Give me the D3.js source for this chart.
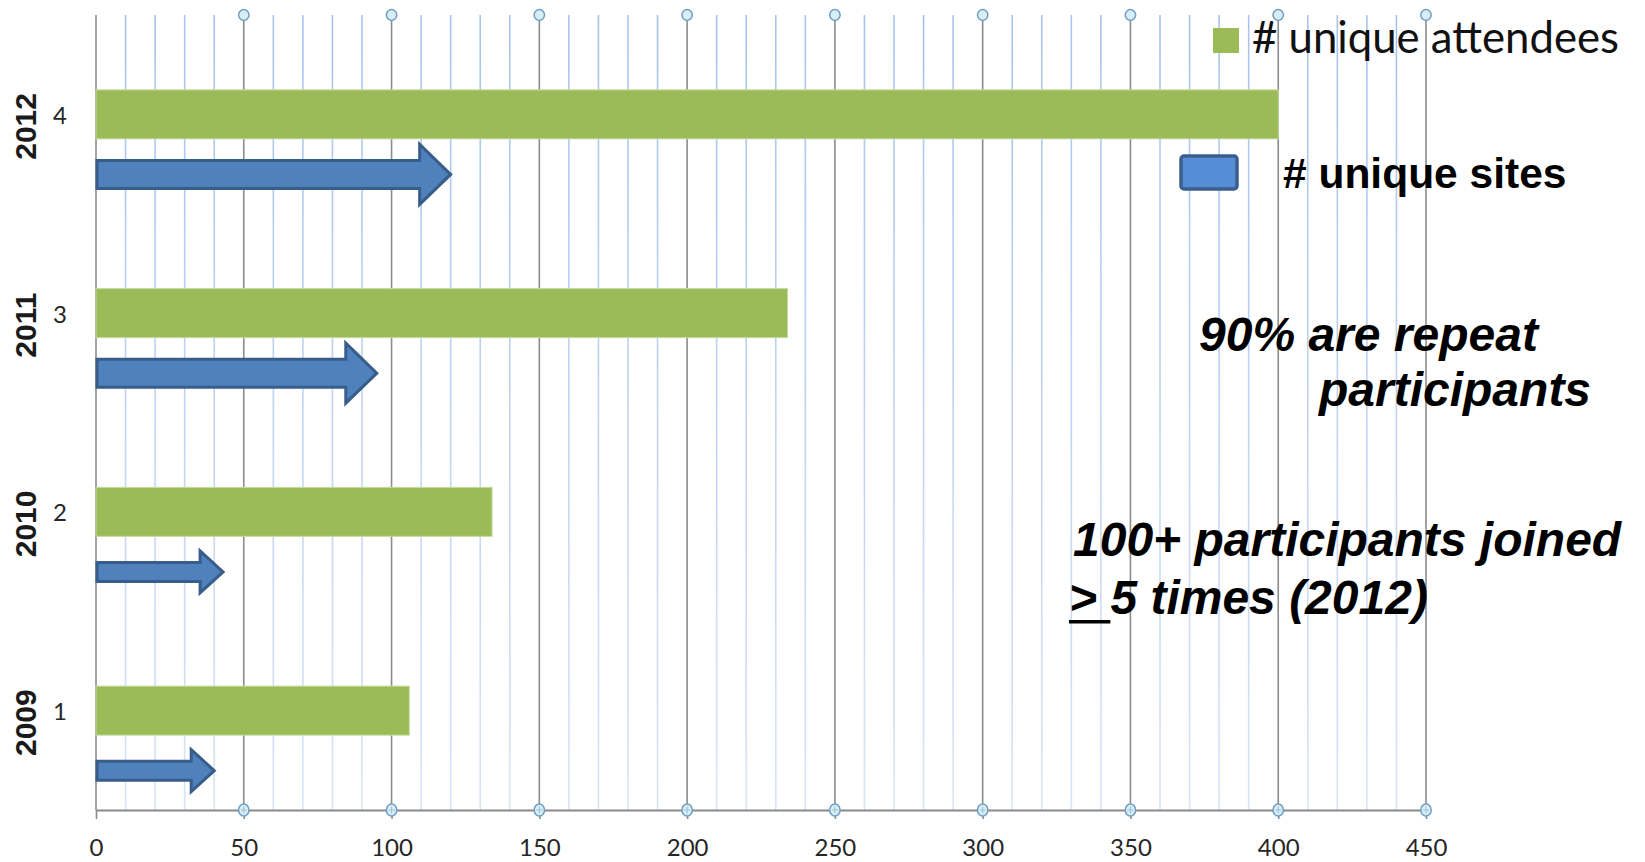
<!DOCTYPE html>
<html>
<head>
<meta charset="utf-8">
<script src="https://cdn.jsdelivr.net/npm/d3@7"></script>
<style>
  html, body { margin: 0; padding: 0; background: #fff; }
  svg { display: block; }
</style>
</head>
<body>
<svg id="chart" width="1645" height="862"></svg>
<script>
// Event history: one row per year
const categories = ["1", "2", "3", "4"];
const years = ["2009", "2010", "2011", "2012"];
const attendees = [106, 134, 234, 400];   // # unique attendees
const sites = [40, 43, 95, 120];          // # unique sites
const xTicks = [0, 50, 100, 150, 200, 250, 300, 350, 400, 450];
const legendLabels = ["# unique attendees", "# unique sites"];
const noteRepeat = ["90% are repeat", "participants"];
const noteFrequent = ["100+ participants joined", "> ", "5 times (2012)"];

const svg = d3.select("#chart");
const plot = { left: 96, right: 1426, top: 15, bottom: 810 };

const x = d3.scaleLinear().domain([0, 450]).range([plot.left, plot.right]);
const y = d3.scaleBand().domain(categories).range([plot.bottom, plot.top]).padding(0);
const bandMid = c => y(c) + y.bandwidth() / 2;

const rows = categories.map((c, i) => ({
  cat: c, year: years[i], attendees: attendees[i], sites: sites[i]
}));

// gradient for the light minor gridlines
const defs = svg.append("defs");
const grad = defs.append("linearGradient")
  .attr("id", "minorGrad").attr("gradientUnits", "userSpaceOnUse")
  .attr("x1", 0).attr("y1", plot.top).attr("x2", 0).attr("y2", plot.bottom);
grad.append("stop").attr("offset", "0%").attr("stop-color", "#a9c3ee");
grad.append("stop").attr("offset", "100%").attr("stop-color", "#d9e4f6");

// minor gridlines every 10
const minor = d3.range(0, 451, 10).filter(v => v % 50 !== 0);
svg.append("g").selectAll("line").data(minor).join("line")
  .attr("x1", d => x(d)).attr("x2", d => x(d))
  .attr("y1", plot.top).attr("y2", plot.bottom)
  .attr("stroke", "url(#minorGrad)").attr("stroke-width", 1.6);

// major gridlines
svg.append("g").selectAll("line").data(xTicks).join("line")
  .attr("x1", d => x(d)).attr("x2", d => x(d))
  .attr("y1", plot.top).attr("y2", plot.bottom)
  .attr("stroke", "#8c8c8c").attr("stroke-width", 1.6);

// bottom axis
const axis = svg.append("g")
  .attr("transform", `translate(0,${plot.bottom})`)
  .call(d3.axisBottom(x).tickValues(xTicks).tickSize(9).tickPadding(20).tickSizeOuter(0));
axis.select(".domain").attr("stroke", "#8a8a8a").attr("stroke-width", 2.2);
axis.selectAll(".tick line").attr("stroke", "#8a8a8a").attr("stroke-width", 1.6);
axis.selectAll(".tick text")
  .attr("font-family", "Lato, 'Open Sans', sans-serif")
  .attr("font-size", 24).attr("fill", "#262626");

// round markers at each major tick, top and bottom
const markerTicks = xTicks.filter(v => v > 0);
[plot.top, plot.bottom].forEach((yy, k) => {
  const g = svg.append("g");
  g.selectAll("ellipse").data(markerTicks).join("ellipse")
    .attr("cx", d => x(d)).attr("cy", yy)
    .attr("rx", 5.2).attr("ry", k ? 6 : 5.4)
    .attr("fill", "#d8eef4").attr("stroke", "#6f9dc6").attr("stroke-width", 1.5);
  if (k) {
    g.selectAll("path").data(markerTicks).join("path")
      .attr("d", d => `M${x(d) - 3},${yy}H${x(d) + 3}M${x(d)},${yy - 3.5}V${yy + 3.5}`)
      .attr("stroke", "#9cc0d8").attr("stroke-width", 1);
  }
});

// attendee bars
const barH = 49;
svg.append("g").selectAll("rect").data(rows).join("rect")
  .attr("x", x(0))
  .attr("y", d => bandMid(d.cat) - barH / 2)
  .attr("width", d => x(d.attendees) - x(0))
  .attr("height", barH)
  .attr("fill", "#9bbb59").attr("stroke", "#c5da9e").attr("stroke-width", 1);

// site arrows under each bar
function arrowPath(d) {
  const x0 = x(0) + 1, x1 = x(d.sites);
  const big = (x1 - x0) > 150;
  const h = big ? 14 : 9.5, Hh = big ? 30 : 21, L = big ? 31 : 23;
  const cy = bandMid(d.cat) + 60;
  const xb = x1 - L;
  return `M${x0},${cy - h}H${xb}V${cy - Hh}L${x1},${cy}L${xb},${cy + Hh}V${cy + h}H${x0}Z`;
}
svg.append("g").selectAll("path").data(rows).join("path")
  .attr("d", arrowPath)
  .attr("fill", "#4f81bd").attr("stroke", "#385d8a").attr("stroke-width", 3)
  .attr("stroke-linejoin", "miter");

// category numbers
svg.append("g").selectAll("text").data(rows).join("text")
  .attr("x", 60).attr("y", d => bandMid(d.cat))
  .attr("text-anchor", "middle").attr("dominant-baseline", "central")
  .attr("font-family", "Lato, 'Open Sans', sans-serif").attr("font-size", 24)
  .attr("fill", "#262626")
  .text(d => d.cat);

// year labels (rotated)
svg.append("g").selectAll("text").data(rows).join("text")
  .attr("transform", d => `translate(25,${bandMid(d.cat) + 12}) rotate(-90)`)
  .attr("text-anchor", "middle").attr("dominant-baseline", "central")
  .attr("font-family", "'Liberation Sans', Arial, sans-serif")
  .attr("font-weight", "bold").attr("font-size", 30).attr("fill", "#1a1a1a")
  .text(d => d.year);

// legend
svg.append("rect").attr("x", 1213).attr("y", 28).attr("width", 26).attr("height", 25)
  .attr("fill", "#9bbb59");
const lt = svg.append("text").attr("x", 1252).attr("y", 53)
  .attr("font-family", "Lato, 'Open Sans', sans-serif").attr("font-size", 44)
  .attr("fill", "#111").text(legendLabels[0]);
const w0 = lt.node().getComputedTextLength();
lt.attr("font-size", 44 * 367 / w0);

svg.append("rect").attr("x", 1181).attr("y", 156).attr("width", 56).attr("height", 33)
  .attr("rx", 3).attr("fill", "#558ed5").attr("stroke", "#3a5f8f").attr("stroke-width", 3.5);
svg.append("text").attr("x", 1283).attr("y", 188)
  .attr("font-family", "'Liberation Sans', Arial, sans-serif").attr("font-weight", "bold")
  .attr("font-size", 42.5).attr("fill", "#000").text(legendLabels[1]);

// annotations
const noteFont = t => t.attr("font-family", "'Liberation Sans', Arial, sans-serif")
  .attr("font-weight", "bold").attr("font-style", "italic")
  .attr("font-size", 48).attr("fill", "#000");
noteFont(svg.append("text").attr("x", 1199).attr("y", 351)).text(noteRepeat[0]);
noteFont(svg.append("text").attr("x", 1319).attr("y", 406)).text(noteRepeat[1]);
noteFont(svg.append("text").attr("x", 1073).attr("y", 556)).text(noteFrequent[0]);
const last = noteFont(svg.append("text").attr("x", 1069).attr("y", 614))
  .attr("xml:space", "preserve").style("white-space", "pre");
last.append("tspan").text(noteFrequent[1]);
last.append("tspan").text(noteFrequent[2]);
const ulW = last.node().getSubStringLength(0, noteFrequent[1].length);
svg.append("rect").attr("x", 1069).attr("y", 620).attr("width", ulW).attr("height", 3.5)
  .attr("fill", "#000");
</script>
</body>
</html>
